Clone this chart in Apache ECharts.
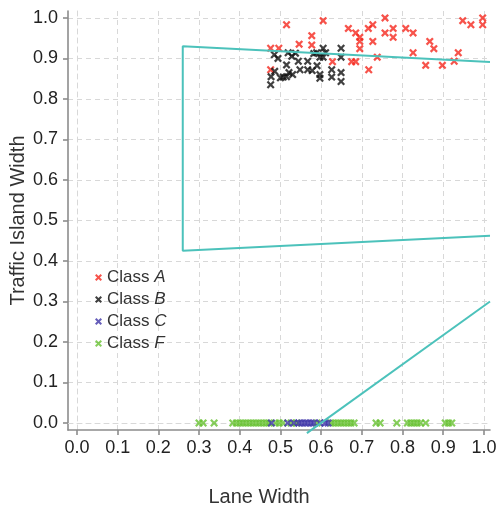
<!DOCTYPE html>
<html><head><meta charset="utf-8">
<script src="https://cdn.jsdelivr.net/npm/echarts@6/dist/echarts.min.js"></script>
<style>html,body{margin:0;padding:0;background:#fff}#c{width:498px;height:512px}</style>
</head><body><div id="c"></div>
<script>
const tickValues = [0,0.1,0.2,0.3,0.4,0.5,0.6,0.7,0.8,0.9,1.0];
const xTitle = 'Lane Width';
const yTitle = 'Traffic Island Width';
const seriesNames = ['Class A','Class B','Class C','Class F'];

const classA = [
 [0.476,0.925],[0.496,0.925],[0.476,0.872],[0.515,0.983],[0.546,0.935],[0.577,0.956],[0.577,0.933],
 [0.605,0.993],[0.628,0.892],[0.667,0.974],[0.675,0.892],[0.685,0.892],[0.685,0.963],[0.695,0.952],
 [0.695,0.942],[0.695,0.924],[0.716,0.974],[0.727,0.983],[0.727,0.942],[0.757,1.0],[0.757,0.963],
 [0.777,0.974],[0.777,0.952],[0.808,0.974],[0.826,0.963],[0.738,0.903],[0.717,0.872],[0.826,0.914],
 [0.867,0.942],[0.877,0.924],[0.857,0.883],[0.898,0.883],[0.927,0.893],[0.937,0.914],[0.948,0.993],
 [0.968,0.983],[0.997,1.0],[0.997,0.983]
];
const classB = [
 [0.476,0.835],[0.477,0.855],[0.486,0.868],[0.485,0.909],[0.494,0.900],[0.519,0.914],[0.528,0.905],
 [0.537,0.913],[0.515,0.884],[0.521,0.865],[0.507,0.854],[0.515,0.855],[0.544,0.893],[0.548,0.872],
 [0.567,0.872],[0.567,0.893],[0.578,0.870],[0.589,0.914],[0.597,0.903],[0.597,0.860],[0.597,0.851],
 [0.605,0.925],[0.605,0.903],[0.611,0.914],[0.626,0.872],[0.626,0.854],[0.649,0.925],[0.649,0.903],
 [0.649,0.865],[0.649,0.843],[0.582,0.912],[0.500,0.852],[0.530,0.860],[0.590,0.882]
];
const classCx = [0.478,0.518,0.533,0.545,0.552,0.560,0.567,0.575,0.582,0.597,0.610,0.617];
const classFx = [0.300,0.310,0.337,0.383,0.392,0.400,0.408,0.416,0.424,0.432,0.440,0.448,0.456,0.464,0.472,
 0.488,0.497,0.506,0.526,0.540,0.590,0.625,0.633,0.641,0.649,0.657,0.665,0.673,0.681,0.735,0.745,0.786,
 0.812,0.820,0.828,0.836,0.844,0.857,0.905,0.913,0.921];
const boundary1 = [[1.015,0.891],[0.26,0.930],[0.26,0.425],[1.015,0.462]];
const boundary2 = [[0.565,-0.025],[1.015,0.300]];

const X = 'path://M0,2L2,0L5,3L8,0L10,2L7,5L10,8L8,10L5,7L2,10L0,8L3,5Z';
const colors = ['#f5281e','#111111','#3f34a8','#68c232'];
const FONT = 'Liberation Sans, Arial, sans-serif';

function scatter(name, data, color){
  return {name, type:'scatter', data, symbol:X, symbolSize:8, clip:false,
    itemStyle:{color}, emphasis:{disabled:true}};
}
const chart = echarts.init(document.getElementById('c'));
const axisLineStyle = {color:'#8c8c8c', width:1.6};
chart.setOption({
  animation:false,
  textStyle:{fontFamily:FONT},
  grid:{left:68,right:8,top:11,bottom:82, outerBoundsMode:'none', containLabel:false},
  legend:{
    orient:'vertical', left:90, top:264, itemWidth:7, itemHeight:7, itemGap:5,
    icon:X, data:seriesNames,
    formatter: n => '{n|Class }{i|' + n.split(' ')[1] + '}',
    textStyle:{rich:{
      n:{fontSize:17, color:'#333', fontFamily:FONT, lineHeight:17},
      i:{fontSize:17, color:'#333', fontStyle:'italic', fontFamily:FONT, lineHeight:17}
    }}
  },
  xAxis:[{
    type:'value', min:-0.022, max:1.015,
    name:xTitle, nameLocation:'middle', nameGap:57, nameMoveOverlap:false,
    nameTextStyle:{fontSize:20, color:'#333', fontFamily:FONT, padding:[0,40,0,0]},
    axisLine:{onZero:false, lineStyle:axisLineStyle},
    axisTick:{show:true, length:5, customValues:tickValues, lineStyle:axisLineStyle},
    axisLabel:{customValues:tickValues, formatter:v=>v.toFixed(1), fontSize:18, color:'#222', margin:9, fontFamily:FONT},
    splitLine:{show:true, lineStyle:{color:'#d8d8d8', type:[5,4], width:1}}
  },{
    type:'value', position:'top', min:-0.022, max:1.015,
    axisLine:{show:true, lineStyle:{color:'#d8d8d8', type:[5,4], width:1}},
    axisTick:{show:false}, axisLabel:{show:false}, splitLine:{show:false}
  }],
  yAxis:[{
    type:'value', min:-0.0173, max:1.017,
    name:yTitle, nameLocation:'middle', nameGap:40, nameMoveOverlap:false,
    nameTextStyle:{fontSize:20, color:'#333', fontFamily:FONT},
    axisLine:{onZero:false, lineStyle:axisLineStyle},
    axisTick:{show:true, length:5, customValues:tickValues, lineStyle:axisLineStyle},
    axisLabel:{customValues:tickValues, formatter:v=>v.toFixed(1), fontSize:18, color:'#222', margin:10, fontFamily:FONT},
    splitLine:{show:true, lineStyle:{color:'#d8d8d8', type:[5,4], width:1}}
  },{
    type:'value', position:'right', min:-0.0173, max:1.017,
    axisLine:{show:true, lineStyle:{color:'#d8d8d8', type:[5,4], width:1}},
    axisTick:{show:false}, axisLabel:{show:false}, splitLine:{show:false}
  }],
  series:[
    scatter(seriesNames[3], classFx.map(x=>[x,0]), colors[3]),
    scatter(seriesNames[2], classCx.map(x=>[x,0]), colors[2]),
    scatter(seriesNames[0], classA, colors[0]),
    scatter(seriesNames[1], classB, colors[1]),
    {type:'line', data:boundary1, symbol:'none', clip:false, lineStyle:{color:'#4cc2bb', width:2}, silent:true},
    {type:'line', data:boundary2, symbol:'none', clip:false, lineStyle:{color:'#4cc2bb', width:2}, silent:true}
  ]
});
</script></body></html>
